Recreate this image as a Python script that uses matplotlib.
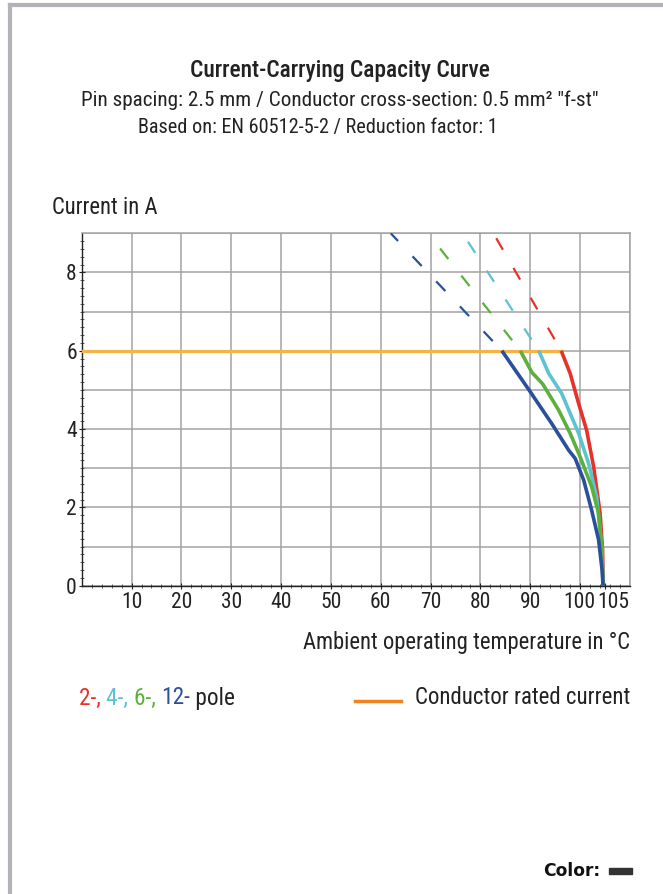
import numpy as np
import matplotlib
matplotlib.use("Agg")
import matplotlib.pyplot as plt
from matplotlib.lines import Line2D
from matplotlib.transforms import ScaledTranslation

plt.rcParams['font.family'] = ['Roboto Condensed', 'Liberation Sans Narrow', 'Roboto', 'DejaVu Sans']

# curve data (temperature in degC, current in A)
t_2pole = [96.2, 98.0, 99.7, 101.3, 102.7, 104.0, 104.5, 104.6]
i_2pole = [6.0, 5.42, 4.65, 3.97, 3.04, 1.85, 0.9, 0.0]
t_4pole = [91.7, 93.7, 96.3, 98.0, 99.7, 101.7, 103.3, 104.3, 104.6]
i_4pole = [6.0, 5.42, 4.91, 4.40, 3.89, 3.12, 2.27, 1.0, 0.0]
t_6pole = [88.0, 90.3, 92.5, 95.7, 98.0, 100.0, 102.3, 103.7, 104.4, 104.6]
i_6pole = [6.0, 5.45, 5.15, 4.48, 3.89, 3.29, 2.53, 1.85, 0.9, 0.0]
t_12pole = [84.3, 90.0, 94.3, 97.7, 99.0, 100.7, 102.3, 103.7, 104.4, 104.6]
i_12pole = [6.0, 4.95, 4.14, 3.46, 3.25, 2.70, 1.93, 1.17, 0.4, 0.0]

# dashed extensions above the rated current (start, top of chart)
ext_t = {"2": [96.2, 82.6], "4": [91.7, 76.4], "6": [88.0, 69.5], "12": [84.3, 62.0]}
ext_i = [6.0, 9.0]

rated_current = 6.0
x_ticks = [10, 20, 30, 40, 50, 60, 70, 80, 90, 100, 105]
y_ticks = [0, 2, 4, 6, 8]

colors = {"2": "#e5332a", "4": "#5cc3d0", "6": "#5bb13c", "12": "#2b4f9c"}
series = [("2", t_2pole, i_2pole), ("4", t_4pole, i_4pole),
          ("6", t_6pole, i_6pole), ("12", t_12pole, i_12pole)]

fig = plt.figure(figsize=(6.63, 8.94), dpi=100)

# grey frame at top and left
fig.add_artist(Line2D([10/663, 1], [1-4.5/894]*2, color="#b1b3b9", lw=3, transform=fig.transFigure))
fig.add_artist(Line2D([10/663]*2, [0, 1-4.5/894], color="#b1b3b9", lw=3, transform=fig.transFigure))

ax = fig.add_axes([81.7/663, 1-585.7/894, (630-81.7)/663, (585.7-233.3)/894])
ax.set_xlim(0, 110)
ax.set_ylim(0, 9)

for y in range(0, 10):
    ax.axhline(y, color="#a3a3a3", lw=1.1, zorder=0)
for x in range(10, 111, 10):
    ax.axvline(x, color="#a3a3a3", lw=1.1, zorder=0)

ax.plot([0, t_2pole[0]], [rated_current, rated_current], color="#f5b246", lw=2.3, zorder=3)

for key, t, i in series:
    ax.plot(ext_t[key], ext_i, color=colors[key], lw=1.6, linestyle=(9.5, (6, 9.5)), zorder=4)
    ax.plot(t, i, color=colors[key], lw=2.6, zorder=5, solid_capstyle="butt")

ax.xaxis.set_ticks(np.arange(2, 110, 2), minor=True)
ax.yaxis.set_ticks(np.arange(0.2, 9, 0.2), minor=True)
ax.set_xticks(x_ticks)
ax.set_xticklabels([str(v) for v in x_ticks])
ax.set_yticks(y_ticks)
ax.set_yticklabels([str(v) for v in y_ticks])

ax.tick_params(which="major", direction="inout", length=5, width=0.8, labelsize=15.5, colors="#222222", pad=2)
ax.tick_params(which="minor", direction="inout", length=2.5, width=0.6, colors="#444444")
ax.tick_params(axis="y", pad=1)
for s in ["left", "bottom"]:
    ax.spines[s].set_color("#222222")
    ax.spines[s].set_linewidth(1.0)
for s in ["top", "right"]:
    ax.spines[s].set_color("#a3a3a3")
    ax.spines[s].set_linewidth(1.1)

# nudge the crowded labels at the right end apart
lab100 = ax.xaxis.get_major_ticks()[-2].label1
lab100.set_transform(lab100.get_transform() + ScaledTranslation(-1/100, 0, fig.dpi_scale_trans))
lab105 = ax.xaxis.get_major_ticks()[-1].label1
lab105.set_transform(lab105.get_transform() + ScaledTranslation(8/100, 0, fig.dpi_scale_trans))

tc = "#222222"
fig.text(340/663, 1-70/894, "Current-Carrying Capacity Curve", ha="center", va="center",
         fontsize=16.8, fontweight="medium", color=tc)
fig.text(340/663, 1-100/894, "Pin spacing: 2.5 mm / Conductor cross-section: 0.5 mm\u00b2 \"f-st\"",
         ha="center", va="center", fontsize=15.2, color=tc)
fig.text(318/663, 1-128/894, "Based on: EN 60512-5-2 / Reduction factor: 1",
         ha="center", va="center", fontsize=14.6, color=tc)
fig.text(52/663, 1-207/894, "Current in A", ha="left", va="center", fontsize=16.3, color=tc)
fig.text(630/663, 1-642/894, "Ambient operating temperature in \u00b0C", ha="right", va="center",
         fontsize=16.3, color=tc)

# legend: multi-coloured text placed piece by piece
parts = [("2-, ", colors["2"]), ("4-, ", colors["4"]), ("6-, ", colors["6"]), ("12-", colors["12"]), (" pole", tc)]
texts = []
for txt, col in parts:
    texts.append(fig.text(79/663, 1-698/894, txt, ha="left", va="center", fontsize=16.8, color=col))
fig.canvas.draw()
renderer = fig.canvas.get_renderer()
x_px = texts[0].get_window_extent(renderer).x1
for t in texts[1:]:
    t.set_position((x_px / fig.bbox.width, 1-698/894))
    x_px = t.get_window_extent(renderer).x1

fig.add_artist(Line2D([355/663, 401/663], [1-701/894]*2, color="#f0851f", lw=2.5, transform=fig.transFigure))
fig.text(630/663, 1-698/894, "Conductor rated current", ha="right", va="center", fontsize=16.5, color=tc)

fig.text(600/663, 1-871/894, "Color:", ha="right", va="center", fontsize=12.3, fontweight="bold",
         family="DejaVu Sans", color="#111111")
fig.add_artist(plt.Rectangle((609/663, 1-873.5/894), 23/663, 6/894, color="#333333",
                             transform=fig.transFigure))

fig.savefig("out.png", dpi=100)
